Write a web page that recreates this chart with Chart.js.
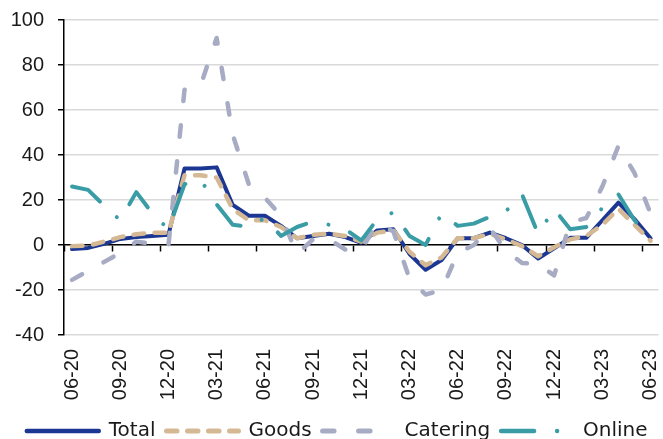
<!DOCTYPE html>
<html>
<head>
<meta charset="utf-8">
<script src="https://cdn.jsdelivr.net/npm/chart.js@4.4.1/dist/chart.umd.min.js"></script>
<style>
  body { margin: 0; background: #fff; }
  canvas { display: block; }
</style>
</head>
<body>
<canvas id="salesChart" width="663" height="439"></canvas>
<script>
// monthly categories, 06-20 .. 06-23
const months = ['06-20','07-20','08-20','09-20','10-20','11-20','12-20',
  '01-21','02-21','03-21','04-21','05-21','06-21','07-21','08-21','09-21','10-21','11-21','12-21',
  '01-22','02-22','03-22','04-22','05-22','06-22','07-22','08-22','09-22','10-22','11-22','12-22',
  '01-23','02-23','03-23','04-23','05-23','06-23'];

// values (y/y %)
const total = [-1.8, -1.3, 0.5, 2.7, 3.5, 4, 4.5, 34, 34, 34.5, 17.8, 13, 13, 8.5, 3, 4, 5, 3.5, 1,
  6.5, 7, -4, -11, -6.7, 3, 3, 5.5, 3, 0, -6, -1.5, 3.2, 3.2, 11, 18.8, 11.5, 3];
const goods = [-0.5, -0.3, 1.5, 3.5, 4.8, 5.5, 5.5, 31, 31, 30, 16, 11, 11, 8, 3, 4.5, 5, 4, 1.5,
  5.5, 6.5, -3, -9, -5.5, 3, 3, 5, 2.5, -0.5, -5, -1, 2.5, 4, 9, 16, 9, 1.8];
const catering = [-15.5, -11.5, -7.5, -3.5, 1.5, 0.5, 0, 69, 71, 92, 49, 27, 21, 13, -4, 2.5, 2.5, -2, -2,
  9.5, 6, -15, -22, -20, -3.5, 0, 7.5, -2.5, -8, -8.5, -13.5, 10, 12, 26, 44, 32, 14];
const online = [26, 24.5, 17.5, 11, 23.5, 14, 7, 27, 29, 18, 9, 8, 12, 4, 8, 10.5, 9, 7, 2,
  11.5, 14.5, 4, 0, 14, 8.5, 9.5, 12.5, 15, 22.5, 5, 16, 7, 8, 16.5, 22.5, 11, 3];

const y_min = -40;
const y_max = 100;
const y_step = 20;
const label_every = 3;

const text_color = '#1a1a1a';
const tick_font = { family: 'Liberation Sans', size: 20 };

const data = {
  labels: months,
  datasets: [
    { label: 'Total', data: total, borderColor: '#1c3793', backgroundColor: '#1c3793',
      borderWidth: 4, order: 3 },
    { label: 'Goods', data: goods, borderColor: '#d5b994', backgroundColor: '#d5b994',
      borderWidth: 4.5, borderDash: [10.5, 10.5], order: 2 },
    { label: 'Catering', data: catering, borderColor: '#a7abc4', backgroundColor: '#a7abc4',
      borderWidth: 4.5, borderDash: [11.5, 24.5], order: 1 },
    { label: 'Online', data: online, borderColor: '#3a9da6', backgroundColor: '#3a9da6',
      borderWidth: 4, borderDash: [33, 23, 0.01, 23], order: 0 }
  ]
};

// legend samples: use the dataset's own dash and width
function legendLabels(chart) {
  const items = Chart.defaults.plugins.legend.labels.generateLabels(chart);
  items.forEach(item => {
    const ds = chart.data.datasets[item.datasetIndex];
    item.lineDash = ds.borderDash || [];
    item.lineCap = 'round';
    item.lineWidth = ds.borderWidth + 0.5;
    item.pointStyle = 'line';
  });
  return items;
}

const config = {
  type: 'line',
  data: data,
  options: {
    responsive: false,
    animation: false,
    devicePixelRatio: 1,
    layout: { padding: { left: 10, right: 4.4, top: 20, bottom: -12 } },
    elements: {
      point: { radius: 0 },
      line: { tension: 0, borderCapStyle: 'round', borderJoinStyle: 'round', fill: false }
    },
    plugins: {
      legend: {
        position: 'bottom',
        align: 'end',
        reverse: true,
        labels: {
          usePointStyle: true,
          pointStyle: 'line',
          pointStyleWidth: 72,
          boxHeight: 20,
          padding: 11,
          color: text_color,
          font: { family: 'DejaVu Sans', size: 20 },
          generateLabels: legendLabels
        }
      },
      tooltip: { enabled: false }
    },
    scales: {
      x: {
        offset: true,
        grid: { display: false, drawTicks: false },
        border: { display: false },
        ticks: {
          autoSkip: false,
          maxRotation: 90,
          minRotation: 90,
          padding: 14,
          color: text_color,
          font: tick_font,
          callback: function(val, i) { return i % label_every === 0 ? months[i] : ''; }
        },
        afterFit: function(s) {
          s.height = 75;
          s.paddingLeft = 0;
          s.paddingRight = 0;
        }
      },
      // axis line through zero with the small tick marks
      x2: {
        type: 'category',
        position: { y: 0 },
        offset: true,
        grid: {
          offset: true,
          drawOnChartArea: false,
          tickLength: 6,
          tickWidth: 1.5,
          tickColor: function(ctx) { return ctx.index % label_every === 0 ? '#000' : 'rgba(0,0,0,0)'; }
        },
        border: { color: '#000', width: 1.5 },
        ticks: { display: false }
      },
      y: {
        min: y_min,
        max: y_max,
        ticks: { stepSize: y_step, padding: 14, color: text_color, font: tick_font },
        grid: { color: '#d9d9d9', lineWidth: 1.5, tickColor: '#000', tickLength: 6 },
        border: { color: '#000', width: 1.5 },
        afterFit: function(s) {
          s.width = 54;
          s.paddingTop = 0;
          s.paddingBottom = 0;
        }
      }
    }
  }
};

window.myChart = new Chart(document.getElementById('salesChart'), config);
</script>
</body>
</html>
